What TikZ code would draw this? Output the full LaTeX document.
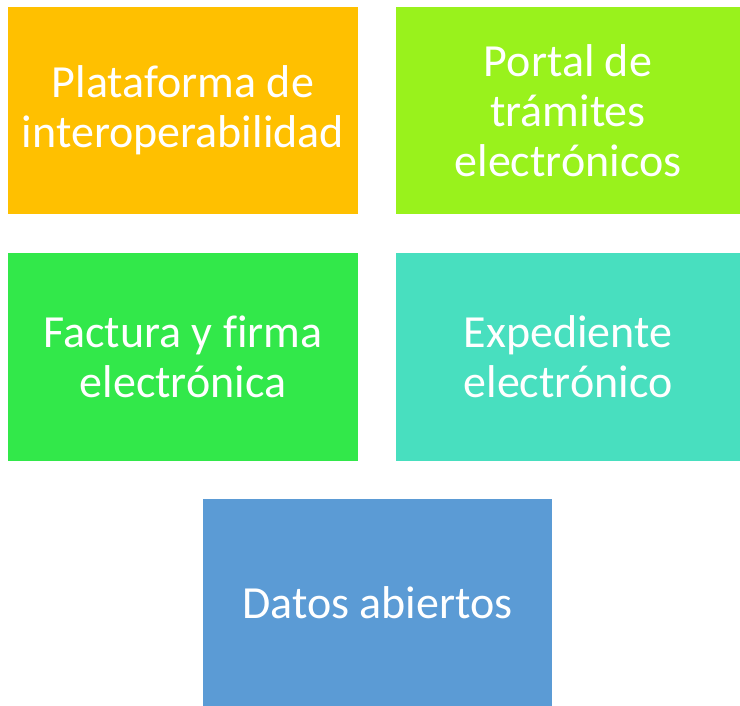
\documentclass[tikz,border=0pt]{standalone}
\usepackage{fontspec}
\setmainfont[Ligatures=NoCommon]{Carlito}
\usepackage{tikz}

\definecolor{orangebox}{HTML}{FFC000}
\definecolor{limebox}{HTML}{99F21C}
\definecolor{greenbox}{HTML}{32E84A}
\definecolor{tealbox}{HTML}{48DFBF}
\definecolor{bluebox}{HTML}{5B9BD5}

\begin{document}
\begin{tikzpicture}[x=1pt,y=-1pt,
	box/.style={rectangle,inner sep=0pt,minimum height=207pt,text=white,align=center,
		font=\fontsize{46}{50}\selectfont}]
	\useasboundingbox (0,0) rectangle (740,706);

	\node[box,fill=orangebox,minimum width=350pt](plat) at (183,110.5) {Plataforma de\\interoperabilidad};
	\node[box,fill=limebox,minimum width=344pt](portal) at (568,110.5) {Portal de\\trámites\\electrónicos};
	\node[box,fill=greenbox,minimum width=350pt](factura) at (183,357) {Factura y firma\\electrónica};
	\node[box,fill=tealbox,minimum width=344pt](exped) at (568,357) {Expediente\\electrónico};
	\node[box,fill=bluebox,minimum width=349pt](datos) at (377.5,602.5) {Datos abiertos};
\end{tikzpicture}
\end{document}
